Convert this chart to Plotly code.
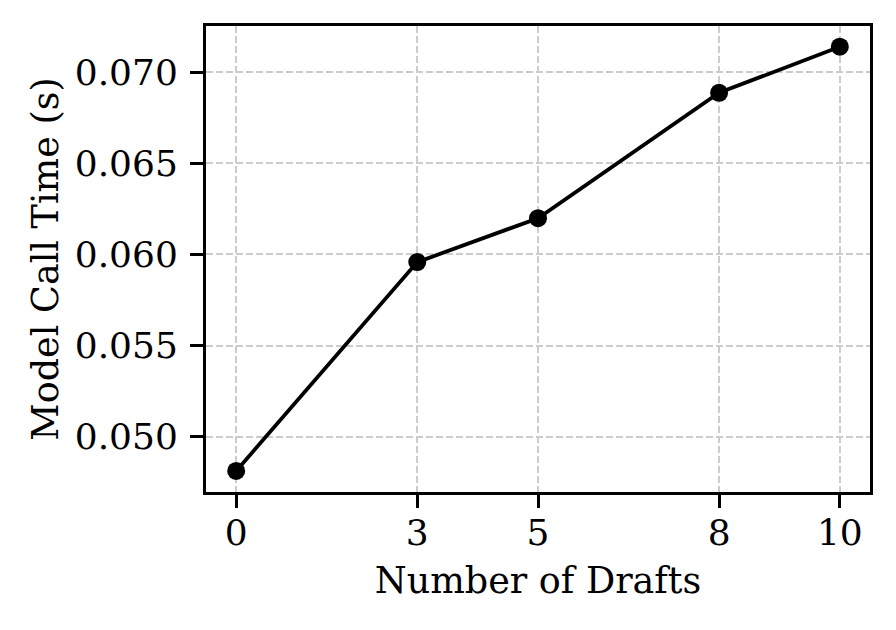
import plotly.graph_objects as go

drafts = [0, 3, 5, 8, 10]
call_time = [0.04812, 0.05958, 0.06199, 0.06887, 0.07140]
x_ticks = [0, 3, 5, 8, 10]
y_ticks = [0.050, 0.055, 0.060, 0.065, 0.070]
y_tick_labels = ["0.050", "0.055", "0.060", "0.065", "0.070"]

FONT = "DejaVu Serif"
FS = 36.5

fig = go.Figure()
fig.add_trace(go.Scatter(
    x=drafts, y=call_time, mode="lines+markers",
    line=dict(color="black", width=3.8),
    marker=dict(color="black", size=18),
    showlegend=False,
))

axis_common = dict(
    showline=True, linecolor="black", linewidth=3, mirror=True,
    ticks="outside", ticklen=13, tickwidth=3, tickcolor="black",
    showgrid=True, gridcolor="#cccccc", gridwidth=1.8, griddash="7px,3px",
    zeroline=False,
    tickfont=dict(family=FONT, size=36, color="black"),
)

fig.update_xaxes(
    range=[-0.5, 10.5], tickmode="array", tickvals=x_ticks,
    ticktext=[str(v) for v in x_ticks], ticklabelstandoff=-6,
    title=dict(text="Number of Drafts", font=dict(family=FONT, size=FS, color="black"), standoff=16),
    **axis_common,
)
fig.update_yaxes(
    range=[0.046966, 0.072536], tickmode="array", tickvals=y_ticks,
    ticktext=y_tick_labels, ticklabelstandoff=5,
    title=dict(text="Model Call Time (s)", font=dict(family=FONT, size=FS, color="black"), standoff=5),
    **axis_common,
)

# page body has an 8px default margin; size the figure to fit the window
fig.update_layout(
    width=880, height=614,
    margin=dict(l=198, r=18, t=18, b=130, autoexpand=False),
    plot_bgcolor="white", paper_bgcolor="white",
    font=dict(family=FONT, color="black"),
)

fig.write_html("out.html")
